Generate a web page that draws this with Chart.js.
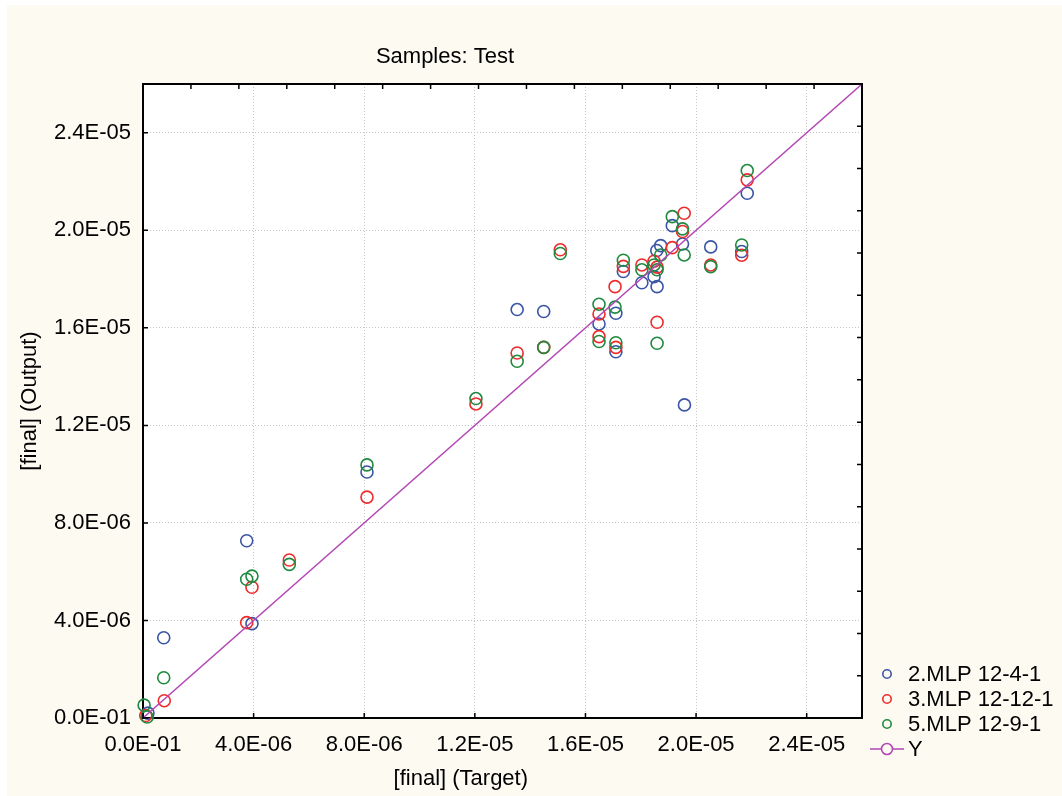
<!DOCTYPE html>
<html>
<head>
<meta charset="utf-8">
<script src="https://cdn.jsdelivr.net/npm/chart.js@4.4.1/dist/chart.umd.min.js"></script>
<style>
html,body{margin:0;padding:0;background:#ffffff;}
#wrap{width:1062px;height:796px;}
</style>
</head>
<body>
<div id="wrap"><canvas id="chart" width="1062" height="796"></canvas></div>
<script>
// values are in units of 1E-06
const blueX = [0.18, 0.75, 3.75, 3.94, 8.10, 13.53, 14.49, 16.49, 17.10, 17.10, 17.37, 18.04, 18.48, 18.59, 18.58, 18.72, 19.14, 19.51, 19.58, 20.53, 21.65, 21.85];
const blueY = [0.20, 3.29, 7.27, 3.87, 10.09, 16.75, 16.67, 16.16, 16.60, 15.02, 18.31, 17.85, 18.10, 17.69, 19.17, 19.37, 20.19, 19.44, 12.84, 19.32, 19.13, 21.52];

const redX = [0.10, 0.77, 3.75, 3.94, 5.29, 8.10, 12.04, 13.53, 14.49, 15.09, 16.49, 16.49, 17.07, 17.10, 17.37, 18.04, 18.48, 18.59, 18.59, 19.14, 19.51, 19.57, 20.53, 21.65, 21.85];
const redY = [0.10, 0.71, 3.91, 5.36, 6.48, 9.06, 12.88, 14.97, 15.20, 19.20, 16.57, 15.64, 17.69, 15.20, 18.52, 18.58, 18.73, 18.49, 16.23, 19.29, 19.95, 20.70, 18.58, 18.98, 22.07];

const greenX = [0.04, 0.15, 0.75, 3.75, 3.94, 5.29, 8.10, 12.04, 13.53, 14.49, 15.09, 16.49, 16.49, 17.07, 17.10, 17.37, 18.04, 18.48, 18.59, 18.59, 18.72, 19.14, 19.51, 19.57, 20.53, 21.65, 21.85];
const greenY = [0.53, 0.04, 1.65, 5.69, 5.82, 6.30, 10.38, 13.10, 14.63, 15.20, 19.05, 16.97, 15.44, 16.85, 15.39, 18.77, 18.38, 18.58, 18.38, 15.37, 18.99, 20.56, 20.06, 18.99, 18.51, 19.40, 22.45];

const lineX = [0, 26];
const lineY = [0, 26];

const seriesNames = ['2.MLP 12-4-1', '3.MLP 12-12-1', '5.MLP 12-9-1', 'Y'];
const xTickLabels = ['0.0E-01', '4.0E-06', '8.0E-06', '1.2E-05', '1.6E-05', '2.0E-05', '2.4E-05'];
const yTickLabels = ['0.0E-01', '4.0E-06', '8.0E-06', '1.2E-05', '1.6E-05', '2.0E-05', '2.4E-05'];

const FONT = '"Liberation Sans", Arial, sans-serif';
const BG = '#fdfaf2';
const colors = ['#3a55a5', '#ee2b2b', '#1f8a3f', '#b348b4'];

const pts = (xs, ys) => xs.map((x, i) => ({x: x, y: ys[i]}));

function scatterSet(label, data, color, order){
    return {
        type: 'scatter', label: label, data: data, order: order,
        borderColor: color, backgroundColor: 'transparent',
        pointStyle: 'circle', pointRadius: 6, pointBorderWidth: 1.6,
        pointHoverRadius: 6, clip: false
    };
}

// background, white plot area, titles, inner tick marks, legend
const decor = {
    id: 'decor',
    beforeDraw(chart){
        const {ctx, chartArea: a} = chart;
        ctx.save();
        ctx.fillStyle = BG;
        ctx.fillRect(7, 5, chart.width - 7, chart.height - 5);
        ctx.fillStyle = '#ffffff';
        ctx.fillRect(a.left, a.top, a.right - a.left, a.bottom - a.top);
        ctx.restore();
    },
    afterDraw(chart){
        const {ctx, chartArea: a, scales} = chart;
        const w = a.right - a.left;
        ctx.save();
        // inner ticks
        ctx.strokeStyle = '#000';
        ctx.lineWidth = 1.5;
        ctx.beginPath();
        scales.x.ticks.forEach(t => { const p = scales.x.getPixelForValue(t.value); ctx.moveTo(p, a.bottom); ctx.lineTo(p, a.bottom - 5); });
        scales.y.ticks.forEach(t => { const p = scales.y.getPixelForValue(t.value); ctx.moveTo(a.left, p); ctx.lineTo(a.left + 5, p); });
        scales.x2.ticks.forEach(t => { const p = scales.x2.getPixelForValue(t.value); ctx.moveTo(p, a.top); ctx.lineTo(p, a.top + 5); });
        scales.y2.ticks.forEach(t => { const p = scales.y2.getPixelForValue(t.value); ctx.moveTo(a.right, p); ctx.lineTo(a.right - 5, p); });
        ctx.stroke();

        // titles
        ctx.fillStyle = '#000';
        ctx.font = '22px ' + FONT;
        ctx.textAlign = 'center';
        ctx.textBaseline = 'middle';
        ctx.fillText('Samples: Test', a.left + w * 0.42, a.top - 27);
        ctx.fillText('[final] (Target)', a.left + w * 0.442, a.bottom + 61);
        ctx.save();
        ctx.translate(a.left - 113, (a.top + a.bottom) / 2);
        ctx.rotate(-Math.PI / 2);
        ctx.fillText('[final] (Output)', 0, 0);
        ctx.restore();

        // legend
        const mx = a.right + 25, tx = a.right + 46;
        ctx.textAlign = 'left';
        chart.data.datasets.forEach((ds, i) => {
            const y = a.bottom - 44 + i * 25;
            ctx.strokeStyle = colors[i];
            ctx.lineWidth = 1.6;
            if(i === 3){
                ctx.beginPath();
                ctx.moveTo(mx - 17, y); ctx.lineTo(mx - 5.5, y);
                ctx.moveTo(mx + 5.5, y); ctx.lineTo(mx + 17, y);
                ctx.stroke();
                ctx.beginPath(); ctx.arc(mx, y, 5.5, 0, Math.PI * 2); ctx.stroke();
            } else {
                ctx.beginPath(); ctx.arc(mx, y, 4.2, 0, Math.PI * 2); ctx.stroke();
            }
            ctx.fillStyle = '#000';
            ctx.fillText(seriesNames[i], tx, y + 1);
        });
        ctx.restore();
    }
};

const tickFont = {family: FONT, size: 22};

new Chart(document.getElementById('chart'), {
    data: {
        datasets: [
            scatterSet(seriesNames[0], pts(blueX, blueY), colors[0], 3),
            scatterSet(seriesNames[1], pts(redX, redY), colors[1], 2),
            scatterSet(seriesNames[2], pts(greenX, greenY), colors[2], 1),
            {type: 'line', label: seriesNames[3], data: pts(lineX, lineY), order: 0,
             borderColor: colors[3], borderWidth: 1.4, pointRadius: 0, fill: false, tension: 0}
        ]
    },
    options: {
        responsive: false, animation: false,
        layout: {padding: {top: 84, right: 200, left: 0, bottom: 0}},
        plugins: {legend: {display: false}, tooltip: {enabled: false}},
        scales: {
            x: {
                type: 'linear', position: 'bottom', min: 0, max: 26,
                afterFit: s => { s.height = 78; },
                grid: {color: '#c4c4c4', drawTicks: false},
                border: {display: true, color: '#000', width: 2, dash: [1, 2]},
                ticks: {stepSize: 4, includeBounds: false, autoSkip: false, maxRotation: 0, padding: 14,
                        color: '#000', font: tickFont, callback: (v, i) => xTickLabels[i]}
            },
            y: {
                type: 'linear', position: 'left', min: 0, max: 26,
                afterFit: s => { s.width = 143; },
                grid: {color: '#c4c4c4', drawTicks: false},
                border: {display: true, color: '#000', width: 2, dash: [1, 2]},
                ticks: {stepSize: 4, includeBounds: false, autoSkip: false, padding: 12,
                        color: '#000', font: tickFont, callback: (v, i) => yTickLabels[i]}
            },
            x2: {
                type: 'linear', position: 'top', min: 0, max: 15,
                afterFit: s => { s.height = 0; },
                grid: {display: false, drawTicks: false},
                border: {display: true, color: '#000', width: 2},
                ticks: {stepSize: 1, display: false}
            },
            y2: {
                type: 'linear', position: 'right', min: 0, max: 15,
                afterFit: s => { s.width = 0; },
                grid: {display: false, drawTicks: false},
                border: {display: true, color: '#000', width: 2},
                ticks: {stepSize: 1, display: false}
            }
        }
    },
    plugins: [decor]
});
</script>
</body>
</html>
